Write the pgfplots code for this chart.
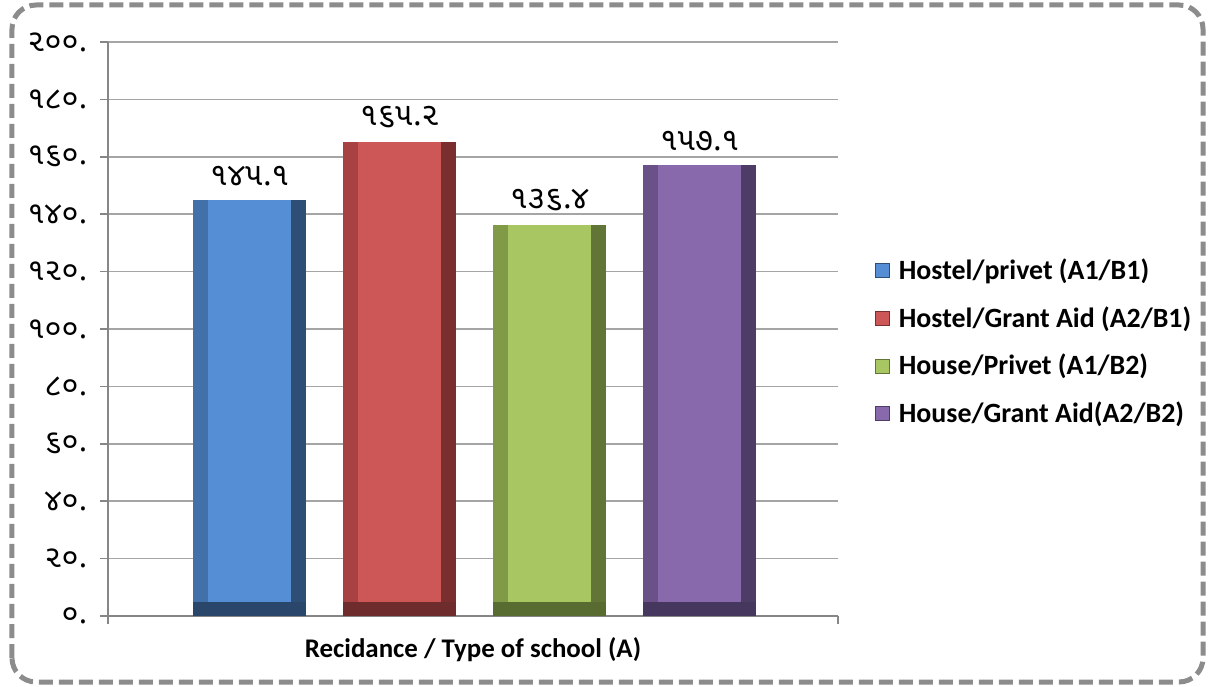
\documentclass[border=0pt]{standalone}
\usepackage{pgfplots}
\pgfplotsset{compat=1.18}
\usepackage{fontspec}
\setmainfont{Carlito}
\newfontfamily\guj[Script=Gujarati]{Noto Sans Gujarati UI}

% bar faces and bevel sides
\definecolor{blueF}{RGB}{85,142,213}
\definecolor{blueL}{RGB}{66,112,168}
\definecolor{blueR}{RGB}{47,78,118}
\definecolor{blueB}{RGB}{42,70,106}
\definecolor{redF}{RGB}{205,86,86}
\definecolor{redL}{RGB}{168,66,66}
\definecolor{redR}{RGB}{122,46,46}
\definecolor{redB}{RGB}{110,44,44}
\definecolor{greenF}{RGB}{168,198,98}
\definecolor{greenL}{RGB}{128,154,72}
\definecolor{greenR}{RGB}{96,117,54}
\definecolor{greenB}{RGB}{88,108,50}
\definecolor{purpF}{RGB}{136,106,172}
\definecolor{purpL}{RGB}{106,82,136}
\definecolor{purpR}{RGB}{77,60,102}
\definecolor{purpB}{RGB}{70,55,95}
\definecolor{gridgray}{RGB}{165,165,165}
\definecolor{axisgray}{RGB}{134,134,134}
\definecolor{framegray}{RGB}{140,140,140}

\pgfplotsset{bev/.style={ybar, bar shift=0pt, draw=none, forget plot}}

\begin{document}
\begin{tikzpicture}
\useasboundingbox (-54bp,-35.5bp) rectangle (553bp,308bp);
\begin{axis}[
    width=365bp, height=287bp, scale only axis,
    xmin=0.057, xmax=4.923, ymin=0, ymax=200,
    ytick={0,20,...,200},
    yticklabels={૦.,૨૦.,૪૦.,૬૦.,૮૦.,૧૦૦.,૧૨૦.,૧૪૦.,૧૬૦.,૧૮૦.,૨૦૦.},
    yticklabel style={font=\guj\fontsize{15.5}{17}\selectfont, xshift=-3bp},
    xtick={0.057,4.923}, xticklabels={},
    ymajorgrids, grid style={line width=0.75bp, color=gridgray},
    axis lines*=left, axis line style={line width=0.75bp, color=axisgray},
    tick align=outside, major tick length=4bp,
    tick style={line width=0.75bp, color=axisgray},
    xlabel={\bfseries Recidance / Type of school (A)},
    xlabel style={at={(axis description cs:0.5,0)}, anchor=center, yshift=-17bp,
        font=\fontsize{13.5}{15}\selectfont},
    every node near coord/.append style={font=\guj\fontsize{16}{18}\selectfont,
        color=black, yshift=3.5bp},
    legend image code/.code={\draw[#1] (0bp,-3.5bp) rectangle (7bp,3.5bp);},
    legend style={at={(1.042,0.477)}, anchor=west, draw=none, fill=none,
        font=\bfseries\fontsize{14}{15}\selectfont, row sep=8bp,
        nodes={inner xsep=4.5bp}},
    legend cell align=left,
    clip=false,
]
% Hostel/privet
\addplot[bev, bar width=0.753, fill=blueF, nodes near coords={\guj ૧૪૫.૧}] coordinates {(1,145.1)};
\addplot[bev, bar width=0.1, fill=blueL] coordinates {(0.6735,145.1)};
\addplot[bev, bar width=0.1, fill=blueR] coordinates {(1.3265,145.1)};
\addplot[bev, bar width=0.753, fill=blueB] coordinates {(1,5)};
% Hostel/Grant Aid
\addplot[bev, bar width=0.753, fill=redF, nodes near coords={\guj ૧૬૫.૨}] coordinates {(2,165.2)};
\addplot[bev, bar width=0.1, fill=redL] coordinates {(1.6735,165.2)};
\addplot[bev, bar width=0.1, fill=redR] coordinates {(2.3265,165.2)};
\addplot[bev, bar width=0.753, fill=redB] coordinates {(2,5)};
% House/Privet
\addplot[bev, bar width=0.753, fill=greenF, nodes near coords={\guj ૧૩૬.૪}] coordinates {(3,136.4)};
\addplot[bev, bar width=0.1, fill=greenL] coordinates {(2.6735,136.4)};
\addplot[bev, bar width=0.1, fill=greenR] coordinates {(3.3265,136.4)};
\addplot[bev, bar width=0.753, fill=greenB] coordinates {(3,5)};
% House/Grant Aid
\addplot[bev, bar width=0.753, fill=purpF, nodes near coords={\guj ૧૫૭.૧}] coordinates {(4,157.1)};
\addplot[bev, bar width=0.1, fill=purpL] coordinates {(3.6735,157.1)};
\addplot[bev, bar width=0.1, fill=purpR] coordinates {(4.3265,157.1)};
\addplot[bev, bar width=0.753, fill=purpB] coordinates {(4,5)};

\addlegendimage{fill=blueF, draw=blueR}
\addlegendentry{Hostel/privet (A1/B1)}
\addlegendimage{fill=redF, draw=redR}
\addlegendentry{Hostel/Grant Aid (A2/B1)}
\addlegendimage{fill=greenF, draw=greenR}
\addlegendentry{House/Privet (A1/B2)}
\addlegendimage{fill=purpF, draw=purpR}
\addlegendentry{House/Grant Aid(A2/B2)}
\end{axis}
\draw[framegray, line width=2.5bp, dash pattern=on 7bp off 3bp, rounded corners=12bp]
    (-48bp,-33bp) rectangle (547.5bp,305.5bp);
\end{tikzpicture}
\end{document}
